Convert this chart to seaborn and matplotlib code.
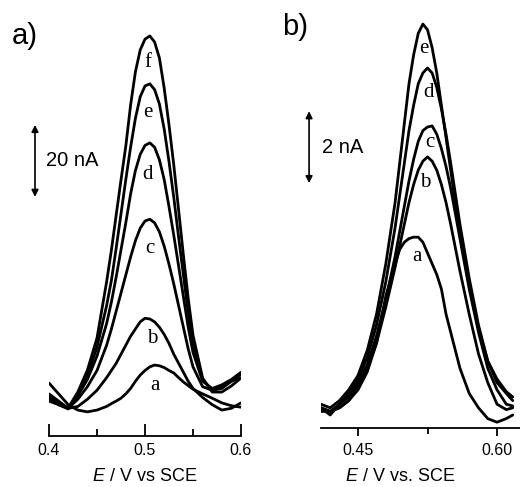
import pandas as pd
import seaborn as sns
import matplotlib.pyplot as plt

# panel a) potentials (V) and currents (nA)
E_a = [0.40, 0.41, 0.42, 0.43, 0.44, 0.45, 0.46, 0.465, 0.47, 0.475, 0.48, 0.485, 0.49, 0.495,
       0.50, 0.505, 0.51, 0.515, 0.52, 0.525, 0.53, 0.535, 0.54, 0.545, 0.55, 0.56, 0.57,
       0.58, 0.59, 0.60]
I_a = {
    "a": [7.5, 4.5, 1.5, 0, -0.5, 0, 1, 1.8, 2.5, 3.3, 4.5, 6, 8, 9.7, 11, 12, 12.5, 12.3,
          11.8, 11, 10.3, 9, 7.8, 6.8, 5.8, 4.5, 3.3, 2, 1.2, 0.8],
    "b": [2.5, 1.5, 0.5, 1, 3, 5.5, 9, 11, 13, 15.5, 18, 20.5, 22.5, 24.5, 25.5, 25.3, 24.5,
          23, 21, 18.5, 15.5, 13, 10.5, 8, 6, 3.5, 1.5, 0, 0.5, 2],
    "c": [4.5, 2.5, 0.5, 3, 6.5, 11, 18, 22.5, 27.5, 32.5, 37.5, 42.5, 47, 50.5, 52.5, 53,
          52, 49.5, 45.5, 40.5, 35, 29, 23, 17, 12, 6.5, 5.5, 6.5, 8, 9],
    "d": [4, 2, 0.5, 4, 8.5, 15, 24, 30, 37, 44.5, 52, 60, 66.5, 71, 73.5, 74.2, 73, 69.5,
          64, 56.5, 48.5, 40, 31.5, 23, 16, 8, 6, 7, 8.5, 10.5],
    "e": [3.5, 1.5, 0.3, 4, 9.5, 17.5, 29, 36, 45, 54.5, 64, 73, 81, 87, 90, 90.6, 89, 85,
          78, 69, 59, 48, 37.5, 27, 18.5, 8.5, 5.5, 6, 8, 10],
    "f": [3.3, 1.7, 0.6, 5, 11.1, 20, 35.6, 44.4, 54.2, 63.9, 73.3, 84.7, 93.9, 100, 103,
          103.9, 102.2, 97.8, 89.4, 79.2, 68, 55.6, 43, 31, 20.8, 8.9, 5, 5, 6.7, 8.9],
}

# panel b)
E_b = [0.41, 0.42, 0.43, 0.44, 0.45, 0.46, 0.47, 0.48, 0.49, 0.495, 0.50, 0.505, 0.51, 0.515,
       0.52, 0.525, 0.53, 0.535, 0.54, 0.545, 0.55, 0.56, 0.57, 0.58, 0.59, 0.60, 0.61, 0.617]
I_b = {
    "a": [0.2, 0.1, 0.2, 0.4, 0.7, 1.2, 2.0, 3.3, 4.2, 4.6, 4.8, 4.9, 4.94, 4.94, 4.8, 4.5,
          4.2, 3.9, 3.5, 2.8, 2.3, 1.3, 0.6, 0.2, -0.1, -0.2, -0.1, 0.0],
    "b": [0.1, 0.1, 0.2, 0.4, 0.8, 1.3, 2.0, 3.0, 4.1, 4.7, 5.3, 5.9, 6.4, 6.8, 7.05, 7.17,
          7.05, 6.8, 6.4, 5.9, 5.3, 4.0, 2.8, 1.7, 0.9, 0.3, 0.15, 0.2],
    "c": [0.2, 0.0, 0.3, 0.5, 0.9, 1.4, 2.2, 3.2, 4.4, 5.1, 5.8, 6.5, 7.1, 7.6, 7.9, 8.0,
          8.03, 7.8, 7.4, 6.9, 6.3, 4.9, 3.5, 2.3, 1.3, 0.7, 0.3, 0.25],
    "d": [0.2, 0.1, 0.3, 0.6, 1.0, 1.6, 2.5, 3.7, 5.2, 6.1, 7.0, 7.9, 8.6, 9.2, 9.5, 9.64,
          9.5, 9.1, 8.5, 7.8, 7.0, 5.3, 3.8, 2.5, 1.5, 0.9, 0.6, 0.4],
    "e": [0.3, 0.2, 0.4, 0.7, 1.1, 1.8, 2.8, 4.2, 5.9, 7.0, 8.1, 9.2, 10.0, 10.6, 10.86, 10.7,
          10.2, 9.5, 8.6, 7.7, 6.8, 5.0, 3.6, 2.4, 1.5, 1.0, 0.65, 0.5],
}

# curve label positions (E, I)
lab_a = {"a": (0.5104, 6.9), "b": (0.5073, 20), "c": (0.5052, 45),
         "d": (0.5031, 65.3), "e": (0.5031, 82.5), "f": (0.5031, 96.4)}
lab_b = {"a": (0.5137, 4.39), "b": (0.5223, 6.47), "c": (0.5277, 7.58),
         "d": (0.5266, 8.97), "e": (0.5212, 10.19)}


def to_long(E, curves):
    rows = []
    for name, vals in curves.items():
        for x, y in zip(E, vals):
            rows.append({"E": x, "I": y, "curve": name})
    return pd.DataFrame(rows)


sns.set_style("white", {"xtick.bottom": True, "text.color": "black",
                        "xtick.color": "black", "axes.edgecolor": "black",
                        "axes.labelcolor": "black"})
plt.rcParams["font.family"] = ["Liberation Sans", "DejaVu Sans"]
plt.rcParams["mathtext.fontset"] = "custom"
plt.rcParams["mathtext.it"] = "Liberation Sans:italic"
plt.rcParams["mathtext.rm"] = "Liberation Sans"

fig = plt.figure(figsize=(5.2, 4.87), dpi=100)
ax1 = fig.add_axes([49 / 520, 51 / 487, 192 / 520, 426 / 487])
ax2 = fig.add_axes([321 / 520, 59 / 487, 199 / 520, 418 / 487])

for ax, E, curves, labs in [(ax1, E_a, I_a, lab_a), (ax2, E_b, I_b, lab_b)]:
    df = to_long(E, curves)
    sns.lineplot(data=df, x="E", y="I", units="curve", estimator=None, color="black",
                 lw=2.0, sort=False, ax=ax, legend=False)
    for k, (x, y) in labs.items():
        ax.text(x, y, k, ha="center", va="center", fontsize=15, color="black",
                family="Liberation Serif")
    for s in ["left", "right", "top"]:
        ax.spines[s].set_visible(False)
    ax.spines["bottom"].set_linewidth(1.3)
    ax.spines["bottom"].set_color("black")
    ax.set_yticks([])
    ax.set_ylabel("")
    ax.tick_params(axis="x", which="both", bottom=True, labelsize=11.5, width=1.3,
                   color="black", labelcolor="black")

ax1.set_xlim(0.4, 0.6)
ax1.set_ylim(-7.2, 111.1)
ax1.set_xticks([0.4, 0.5, 0.6])
ax1.set_xticklabels(["0.4", "0.5", "0.6"])
ax1.set_xticks([0.45, 0.55], minor=True)
ax1.tick_params(axis="x", which="major", direction="in", length=9, pad=5)
ax1.tick_params(axis="x", which="minor", direction="in", length=5)
ax1.set_xlabel("$E$ / V vs SCE", fontsize=13, color="black")
ax1.xaxis.set_label_coords(0.5, -0.075)

ax2.set_xlim(0.41007, 0.6248)
ax2.set_ylim(-0.361, 11.25)
ax2.set_xticks([0.45, 0.60])
ax2.set_xticklabels(["0.45", "0.60"])
ax2.set_xticks([0.525], minor=True)
ax2.tick_params(axis="x", which="major", direction="out", length=6, pad=5)
ax2.tick_params(axis="x", which="minor", direction="out", length=4)
ax2.set_xlabel("$E$ / V vs. SCE", fontsize=13, color="black")
ax2.xaxis.set_label_coords(0.40, -0.095)

# scale bars
arrow = dict(arrowstyle="<|-|>", lw=1.2, color="black", mutation_scale=10,
             shrinkA=0, shrinkB=0)
ax1.annotate("", xy=(-0.073, 79.2), xytext=(-0.073, 59.2),
             xycoords=ax1.get_yaxis_transform(), arrowprops=arrow, annotation_clip=False)
ax1.text(-0.016, 69.4, "20 nA", transform=ax1.get_yaxis_transform(),
         ha="left", va="center", fontsize=14.5, color="black")
ax2.annotate("", xy=(-0.06, 8.44), xytext=(-0.06, 6.44),
             xycoords=ax2.get_yaxis_transform(), arrowprops=arrow, annotation_clip=False)
ax2.text(0.005, 7.42, "2 nA", transform=ax2.get_yaxis_transform(),
         ha="left", va="center", fontsize=14.5, color="black")

fig.text(12 / 520, 1 - 36 / 487, "a)", fontsize=21, va="center", ha="left", color="black")
fig.text(282 / 520, 1 - 27 / 487, "b)", fontsize=21, va="center", ha="left", color="black")

fig.savefig("out.png", dpi=100)
